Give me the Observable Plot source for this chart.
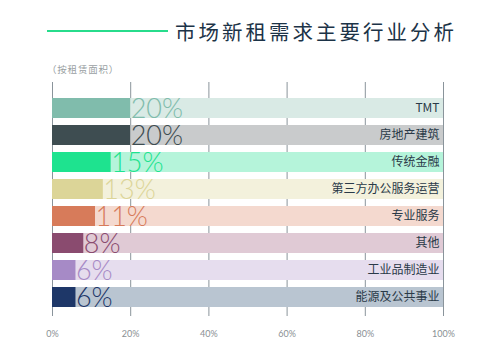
<!DOCTYPE html>
<html>
<head>
<meta charset="utf-8">
<script src="https://cdn.jsdelivr.net/npm/d3@7"></script>
<script src="https://cdn.jsdelivr.net/npm/@observablehq/plot@0.6"></script>
<style>
  html, body { margin: 0; padding: 0; background: #fff; }
  body { width: 500px; height: 360px; overflow: hidden; font-family: "Noto Sans CJK SC", sans-serif; }
  #header { position: relative; height: 80px; }
  #line { position: absolute; left: 47px; top: 30px; width: 121px; height: 2px; background: #27dc8c; }
  #title { position: absolute; left: 175px; top: 18px; font-size: 20.5px; letter-spacing: 3px; color: #1c3347; line-height: 26px; white-space: nowrap; }
  #subtitle { position: absolute; left: 47px; top: 62px; font-size: 9.5px; color: #9a9fa3; letter-spacing: 0.8px; line-height: 14px; }
  #chart svg { display: block; }
</style>
</head>
<body>
<div id="header">
  <div id="line"></div>
  <div id="title">市场新租需求主要行业分析</div>
  <div id="subtitle">（按租赁面积）</div>
</div>
<div id="chart"></div>
<script>
const categories = ["TMT", "房地产建筑", "传统金融", "第三方办公服务运营", "专业服务", "其他", "工业品制造业", "能源及公共事业"];
const values = [20, 20, 15, 13, 11, 8, 6, 6];
const barColors = ["#80bcac", "#3e4d51", "#1ee38f", "#dcd598", "#d77b5a", "#8a4b6f", "#a68ac6", "#1e3768"];
const trackColors = ["#d9eae5", "#c9cbcc", "#b5f4da", "#f3f1dc", "#f4d9cf", "#e0cad5", "#e6ddee", "#b9c5d1"];
const xTicks = [0, 20, 40, 60, 80, 100];

const data = categories.map((c, i) => ({category: c, value: values[i], color: barColors[i], track: trackColors[i]}));

const chart = Plot.plot({
  width: 500,
  height: 280,
  marginLeft: 52,
  marginRight: 57,
  marginTop: 2,
  marginBottom: 44,
  style: {fontFamily: "'Noto Sans CJK SC', sans-serif", background: "#fff"},
  x: {domain: [0, 100], ticks: xTicks, axis: null},
  y: {domain: categories, range: [11, 235], padding: 0.25, axis: null},
  color: {type: "identity"},
  marks: [
    Plot.ruleX(xTicks, {stroke: "#8a949b", strokeWidth: 1}),
    Plot.barX(data, {y: "category", x1: 0, x2: 100, fill: "track"}),
    Plot.barX(data, {y: "category", x1: 0, x2: "value", fill: "color"}),
    Plot.text(data, {
      y: "category", x: "value", text: d => d.value + "%",
      textAnchor: "start", dx: 0, dy: 1, fill: "color",
      fontSize: 27, fontWeight: 300, fontFamily: "Lato, 'Open Sans', sans-serif",
      style: "letter-spacing:2px"
    }),
    Plot.text(data, {
      y: "category", x: 100, text: "category",
      textAnchor: "end", dx: -4, dy: 0, fill: "#2a3a48",
      fontSize: 12, style: "letter-spacing:2px"
    }),
    Plot.text(xTicks, {
      x: d => d, frameAnchor: "bottom", dy: 20, text: d => d + "%",
      fill: "#8a8f94", fontSize: 9, fontFamily: "Lato, sans-serif", style: "letter-spacing:0.8px"
    })
  ]
});
document.getElementById("chart").appendChild(chart);
</script>
</body>
</html>
